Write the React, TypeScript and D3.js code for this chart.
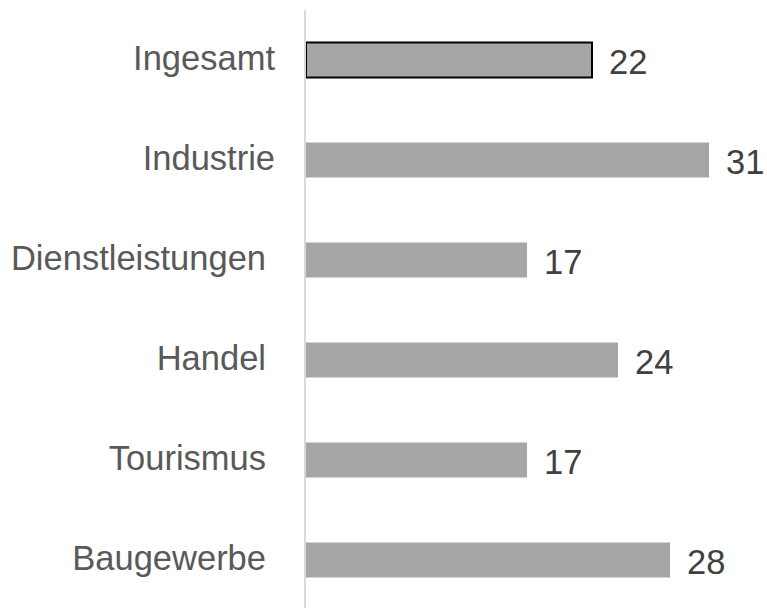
import React from "react";
import * as d3 from "d3";

const categories = ["Ingesamt", "Industrie", "Dienstleistungen", "Handel", "Tourismus", "Baugewerbe"];
const values = [22, 31, 17, 24, 17, 28];

export default function App() {
  const width = 767;
  const height = 608;
  const x0 = 306;
  const x = d3.scaleLinear().domain([0, 22]).range([x0, 592]);
  const y = d3.scaleBand<string>().domain(categories).range([10, 610]).paddingInner(0.65).paddingOuter(0.325);
  const fs = 34.5;
  const labelRight = (i: number) => (i < 2 ? 275 : 266);
  return (
    <svg width={width} height={height} style={{ position: "absolute", left: 0, top: 0 }} fontFamily="'Liberation Sans', Arial, sans-serif">
      {categories.map((c, i) => {
        const yy = y(c)!;
        const bw = y.bandwidth();
        const first = i === 0;
        return (
          <g key={c}>
            <rect
              x={x(0)}
              y={yy}
              width={x(values[i]) - x(0)}
              height={bw}
              fill="#a6a6a6"
              stroke={first ? "#000" : "none"}
              strokeWidth={first ? 2 : 0}
            />
            <text x={labelRight(i)} y={yy + bw / 2 + 10} textAnchor="end" fontSize={fs} fill="#595959">
              {c}
            </text>
            <text x={x(values[i]) + 17} y={yy + bw / 2 + 13.5} textAnchor="start" fontSize={fs} fill="#404040">
              {values[i]}
            </text>
          </g>
        );
      })}
      <line x1={305} x2={305} y1={10} y2={608} stroke="#d9d9d9" strokeWidth={2} />
    </svg>
  );
}
